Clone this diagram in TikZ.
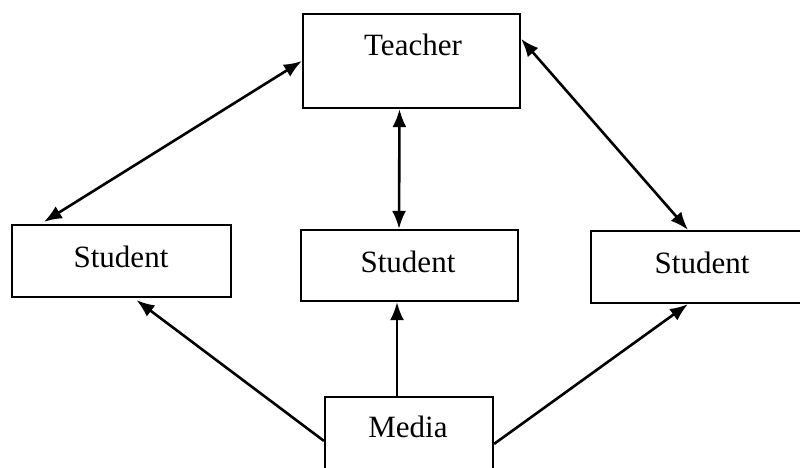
\documentclass[tikz,border=0pt]{standalone}
\usepackage{fontspec}
\setmainfont{Liberation Serif}
\usetikzlibrary{arrows.meta,calc}
\begin{document}
\begin{tikzpicture}[x=1pt,y=-1pt,
  box/.style={draw,line width=2.2pt,rectangle,inner sep=0pt},
  lbl/.style={inner sep=0pt,font=\fontsize{31}{36}\selectfont},
  link/.style={line width=2.6pt},
  tip/.style={-{Latex[length=18pt,width=14pt]}},
  dtip/.style={{Latex[length=18pt,width=14pt]}-{Latex[length=18pt,width=14pt]}}]
\useasboundingbox (0,0) rectangle (800,467);
\begin{scope}
\clip (0,0) rectangle (800,467);
\node[box,minimum width=217pt,minimum height=94pt] (teacher) at (411.5,61) {};
\node[lbl] (teacherlbl) at (413,45) {Teacher};
\node[box,minimum width=219pt,minimum height=72pt] (sL) at (121.5,261) {};
\node[lbl] (sLlbl) at (121,257) {Student};
\node[box,minimum width=217pt,minimum height=71pt] (sM) at (409.5,265.5) {};
\node[lbl] (sMlbl) at (408,262) {Student};
\node[box,minimum width=218pt,minimum height=72pt] (sR) at (700,267) {};
\node[lbl] (sRlbl) at (702,263) {Student};
\node[box,minimum width=168pt,minimum height=84pt] (media) at (409,439) {};
\node[lbl] (medialbl) at (408,427) {Media};
\end{scope}
\draw[link,dtip] (teacher.west) -- ($(sL.north west)+(33,-2)$);
\draw[link,dtip] ($(teacher.south)+(-12,0)$) -- ($(sM.north)+(-10.5,0)$);
\draw[link,dtip] ($(teacher.north east)+(0,26)$) -- ($(sR.north)+(-12,0)$);
\draw[link,tip] ($(media.north west)+(0,45)$) -- ($(sL.south)+(15,2)$);
\draw[link,tip] ($(media.north)+(-12,0)$) -- ($(sM.south)+(-12.5,0)$);
\draw[link,tip] ($(media.north east)+(0,48)$) -- ($(sR.south)+(-12,0)$);
\end{tikzpicture}
\end{document}
